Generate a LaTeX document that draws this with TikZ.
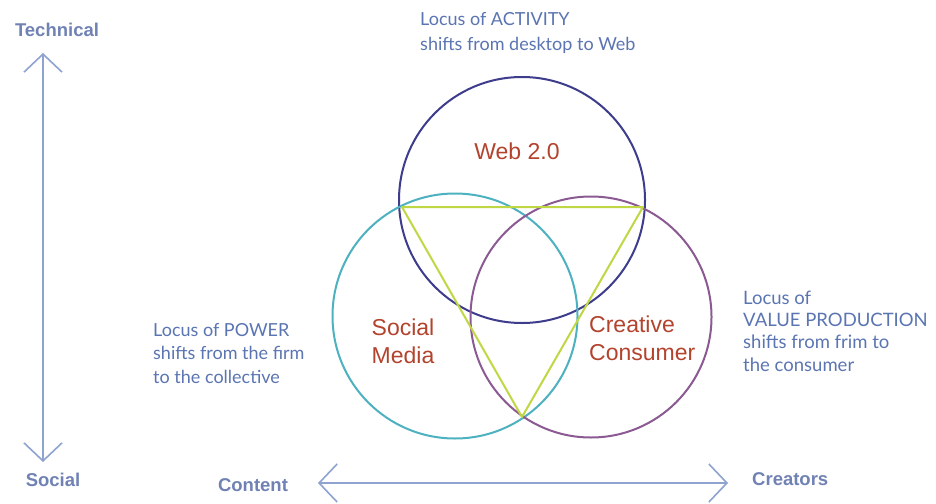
\documentclass[tikz,border=0pt]{standalone}
\usepackage{fontspec}
\setmainfont{Liberation Sans}
\newfontfamily\notefont{Lato}
\usetikzlibrary{arrows.meta}

\definecolor{axisline}{HTML}{8EA3CF}
\definecolor{axistext}{HTML}{7082B4}
\definecolor{notetext}{HTML}{5B75B2}
\definecolor{labeltext}{HTML}{B3432D}
\definecolor{webring}{HTML}{3E3C8C}
\definecolor{socialring}{HTML}{4DB1C0}
\definecolor{creativering}{HTML}{8C5A93}
\definecolor{triline}{HTML}{C0D744}

\tikzset{
  ring/.style={circle, draw, line width=2pt, inner sep=0pt, minimum size=#1},
  axis/.style={draw=axisline, line width=1.6pt,
    arrows={Straight Barb[length=18pt, width=38pt]-Straight Barb[length=18pt, width=38pt]}},
  axislabel/.style={text=axistext, font=\bfseries\fontsize{18.5}{22}\selectfont, inner sep=0pt},
  ringlabel/.style={text=labeltext, align=#1, inner sep=0pt, font=\fontsize{23}{28}\selectfont},
  note/.style={text=notetext, align=left, inner sep=0pt, anchor=base west},
}

\begin{document}
\begin{tikzpicture}[x=1pt, y=-1pt]
  \useasboundingbox (0,0) rectangle (936,503);
  \fill[white] (0,0) rectangle (936,503);

  % the three overlapping circles
  \node[ring=246pt, draw=webring]      (web)      at (522,200) {};
  \node[ring=245pt, draw=socialring]   (social)   at (455,316) {};
  \node[ring=241pt, draw=creativering] (creative) at (591,317) {};

  % triangle joining the crossing points
  \coordinate (tl) at (402,207);
  \coordinate (tr) at (643,207);
  \coordinate (tb) at (522,417);
  \draw[triline, line width=2pt, line join=round] (tl) -- (tr) -- (tb) -- cycle;

  % circle labels
  \node[ringlabel=center] (weblbl) at (517,151) {Web 2.0};
  \node[ringlabel=center] (sociallbl) at (403,341) {Social\\Media};
  \node[ringlabel=left, anchor=west] (creativelbl) at (589,338) {Creative\\Consumer};

  % notes (anchored on the baseline of their last line)
  \node[note, font=\notefont\fontsize{18}{25}\selectfont] (activity) at (420,51)
    {Locus of ACTIVITY\\shifts from desktop to Web};
  \node[note, font=\notefont\fontsize{18}{23.5}\selectfont] (power) at (153,383)
    {Locus of POWER\\shifts from the firm\\to the collective};
  \node[note, font=\notefont\fontsize{18.5}{22.3}\selectfont] (value) at (743,371)
    {Locus of\\VALUE PRODUCTION\\shifts from frim to\\the consumer};

  % axes
  \node[axislabel] (technical) at (57,30) {Technical};
  \node[axislabel] (sociallabel) at (53,480) {Social};
  \node[axislabel] (content) at (253,485) {Content};
  \node[axislabel, anchor=west] (creators) at (752,479) {Creators};

  \coordinate (vtop) at (43,53);
  \coordinate (vbot) at (43,462);
  \coordinate (hleft) at (318,483);
  \coordinate (hright) at (728,483);
  \draw[axis] (vbot) -- (vtop);
  \draw[axis] (hleft) -- (hright);
\end{tikzpicture}
\end{document}
